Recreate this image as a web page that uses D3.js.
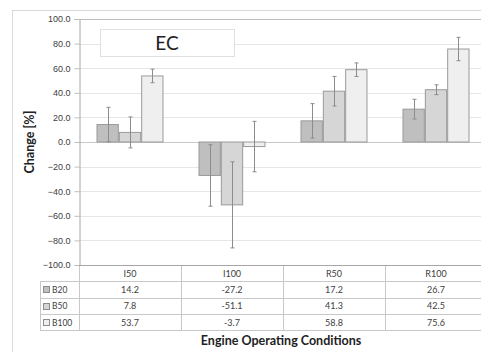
<!DOCTYPE html>
<html><head><meta charset="utf-8">
<script src="https://cdn.jsdelivr.net/npm/d3@7"></script>
<style>body{margin:0;background:#fff;} svg{display:block;font-family:Lato,"Open Sans",sans-serif;}</style>
</head><body><svg id="c" width="481" height="352"></svg>
<script>
const categories = ["I50","I100","R50","R100"];
const seriesNames = ["B20","B50","B100"];
const B20 = [14.2,-27.2,17.2,26.7];
const B50 = [7.8,-51.1,41.3,42.5];
const B100 = [53.7,-3.7,58.8,75.6];
const errB20 = [14,25,14,8];
const errB50 = [12.6,35,12,4];
const errB100 = [5.5,20.5,5.5,9.5];
const yTicks = [-100,-80,-60,-40,-20,0,20,40,60,80,100];
const colors = ["#bfbfbf","#d6d6d6","#efefef"];
const values = [B20,B50,B100];
const errs = [errB20,errB50,errB100];

const svg = d3.select("#c");
const L=79,R=487,T=19,B=265;
const y = d3.scaleLinear().domain([-100,100]).range([B,T]);
const x0 = d3.scaleBand().domain(categories).range([L,R]);
const x1 = d3.scaleBand().domain(seriesNames).range([0,67]);
const off = (x0.bandwidth()-67)/2;

svg.append("rect").attr("x",12.5).attr("y",10.5).attr("width",480).attr("height",350)
  .attr("fill","none").attr("stroke","#d9d9d9");

svg.append("g").selectAll("line").data(yTicks).join("line")
  .attr("x1",L).attr("x2",R).attr("y1",d=>Math.round(y(d))+0.5).attr("y2",d=>Math.round(y(d))+0.5)
  .attr("stroke",d=>d===0?"#c8c8c8":"#e6e6e6");

const ya = svg.append("g").attr("transform",`translate(${L+0.5},0)`)
  .call(d3.axisLeft(y).tickValues(yTicks).tickFormat(d3.format(".1f")).tickSize(5).tickPadding(4));
ya.select(".domain").attr("stroke","#a6a6a6");
ya.selectAll(".tick line").attr("stroke","#bfbfbf");
ya.selectAll("text").attr("font-size",9).attr("fill","#404040");

svg.append("line").attr("x1",L).attr("x2",R).attr("y1",T+0.5).attr("y2",T+0.5).attr("stroke","#bdbdbd");

const g = svg.append("g");
seriesNames.forEach((s,si)=>{
  g.selectAll(null).data(categories).join("rect")
    .attr("x",(c)=>x0(c)+off+x1(s)+0.5)
    .attr("width",x1.bandwidth()-1)
    .attr("y",(c,i)=>Math.min(y(values[si][i]),y(0)))
    .attr("height",(c,i)=>Math.abs(y(values[si][i])-y(0)))
    .attr("fill",colors[si]).attr("stroke","#9a9a9a").attr("stroke-width",1);
});
seriesNames.forEach((s,si)=>{
  categories.forEach((c,i)=>{
    const cx = Math.round(x0(c)+off+x1(s)+x1.bandwidth()/2)+0.5;
    const v=values[si][i], e=errs[si][i];
    const eg = g.append("g").attr("stroke","#8c8c8c").attr("stroke-width",1);
    eg.append("line").attr("x1",cx).attr("x2",cx).attr("y1",y(v+e)).attr("y2",y(v-e));
    [v+e,v-e].forEach(t=>eg.append("line").attr("x1",cx-2).attr("x2",cx+2).attr("y1",y(t)).attr("y2",y(t)));
  });
});

svg.append("rect").attr("x",100.5).attr("y",29.5).attr("width",134).attr("height",27)
  .attr("fill","#fff").attr("stroke","#e0e0e0");
svg.append("text").attr("x",167).attr("y",50).attr("text-anchor","middle")
  .attr("font-size",19).attr("fill","#222").text("EC");

const rowH=16.3, tTop=B;
const tl = svg.append("g").attr("stroke","#c8c8c8");
for(let r=1;r<=4;r++){
  const yy=Math.round(tTop+r*rowH)+0.5;
  tl.append("line").attr("x1",40).attr("x2",R).attr("y1",yy).attr("y2",yy);
}
svg.append("line").attr("x1",L).attr("x2",R).attr("y1",B+0.5).attr("y2",B+0.5).attr("stroke","#a6a6a6");
tl.append("line").attr("x1",40.5).attr("x2",40.5).attr("y1",Math.round(tTop+rowH)).attr("y2",Math.round(tTop+4*rowH)+0.5);
categories.forEach(c=>{
  const xx=Math.round(x0(c))+0.5;
  tl.append("line").attr("x1",xx).attr("x2",xx).attr("y1",tTop).attr("y2",Math.round(tTop+4*rowH)+0.5);
});
const tt = svg.append("g").attr("font-size",9).attr("fill","#404040").attr("text-anchor","middle");
categories.forEach((c,i)=>{
  const cx=x0(c)+x0.bandwidth()/2;
  tt.append("text").attr("x",cx).attr("y",tTop+rowH/2+3.5).text(c);
  values.forEach((vals,si)=>{
    tt.append("text").attr("x",cx).attr("y",tTop+(si+1)*rowH+rowH/2+3.5).text(vals[i].toFixed(1));
  });
});
seriesNames.forEach((s,si)=>{
  const yy=tTop+(si+1)*rowH+rowH/2;
  svg.append("rect").attr("x",43.5).attr("y",Math.round(yy-3)+0.5).attr("width",6).attr("height",6)
    .attr("fill",colors[si]).attr("stroke","#8c8c8c");
  svg.append("text").attr("x",52).attr("y",yy+3.5).attr("font-size",8.5).attr("fill","#404040").text(s);
});

svg.append("text").attr("x",281).attr("y",345).attr("text-anchor","middle")
  .attr("font-size",12.5).attr("font-weight","bold").attr("fill","#222").text("Engine Operating Conditions");
svg.append("text").attr("transform","translate(34,142) rotate(-90)").attr("text-anchor","middle")
  .attr("font-size",12.5).attr("font-weight","bold").attr("fill","#222").text("Change [%]");
</script></body></html>
